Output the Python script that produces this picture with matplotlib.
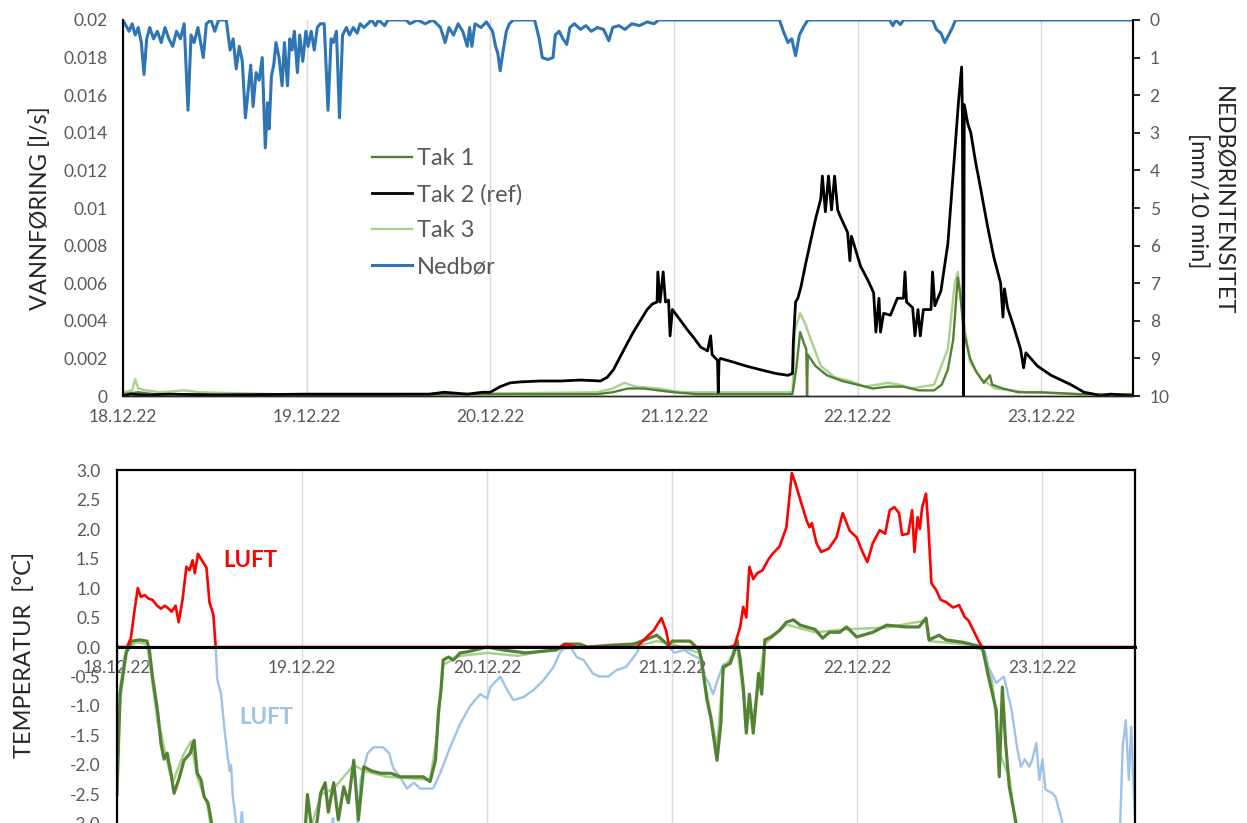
import numpy as np
import matplotlib
matplotlib.use("Agg")
import matplotlib.pyplot as plt

plt.rcParams['font.family'] = ['Lato', 'DejaVu Sans']

# x values are hours after 18.12.22 00:00
day_ticks = [0, 24, 48, 72, 96, 120]
day_labels = ['18.12.22', '19.12.22', '20.12.22', '21.12.22', '22.12.22', '23.12.22']

# --- top panel: precipitation [mm/10 min] ---
nedbor_t = [0, 0.8, 1.2, 1.6, 2.0, 2.4, 2.75, 3.1, 3.5, 4.0, 4.5, 5.0, 5.5, 6.0, 6.5,
            7.0, 7.5, 8.0, 8.5, 8.9, 9.3, 9.8, 10.5, 10.9, 11.5, 12.0, 12.5, 13.5,
            14.0, 14.4, 14.8, 15.2, 15.6, 16.0, 16.4, 16.7, 17.0, 17.4, 17.8, 18.2,
            18.6, 18.9, 19.1, 19.4, 19.7, 20.0, 20.4, 20.8, 21.1, 21.5, 21.8, 22.1,
            22.4, 22.8, 23.1, 23.5, 23.9, 24.2, 24.6, 25.0, 25.4, 25.8, 26.3, 26.8,
            27.2, 27.5, 27.9, 28.3, 28.7, 29.2, 29.6, 30.1, 30.6, 31.0, 31.5, 32.5,
            33.0, 33.4, 34.2, 34.6, 37.0, 37.5, 38.5, 39.5, 40.5, 41.5, 42.1, 42.6,
            43.2, 43.8, 44.4, 45.0, 45.3, 45.6, 46.0, 46.8, 47.5, 48.3, 48.7, 49.0,
            49.3, 49.7, 50.1, 50.5, 51.0, 53.8, 54.4, 54.8, 55.5, 56.2, 56.5, 57.0,
            57.5, 58.0, 58.4, 59.0, 59.8, 60.5, 61.2, 62.0, 62.8, 63.5, 64.0, 64.8,
            65.6, 66.5, 67.5, 68.5, 69.4, 70.0, 85.8, 86.3, 86.9, 87.4, 87.9, 88.4,
            88.9, 89.5, 100.2, 100.6, 101.0, 101.6, 102.0, 105.8, 106.3, 106.9,
            107.4, 107.9, 108.4, 108.8, 132.0]
nedbor_mm = [0, 0.3, 0.1, 0.4, 0.2, 0.6, 1.45, 0.5, 0.2, 0.5, 0.3, 0.6, 0.2, 0.5, 0.7,
             0.3, 0.5, 0.1, 2.4, 0.4, 0.6, 0.2, 1.0, 0.1, 0.0, 0.3, 0.0, 0.0,
             0.8, 0.5, 1.3, 0.7, 1.1, 2.6, 1.8, 1.2, 2.3, 1.4, 1.6, 1.0,
             3.4, 2.2, 2.9, 1.5, 1.2, 0.6, 1.0, 1.75, 0.6, 1.75, 0.5, 0.8,
             0.3, 1.4, 0.4, 1.1, 0.3, 0.7, 0.3, 0.8, 0.2, 0.1, 0.1, 2.4,
             0.5, 0.6, 0.3, 2.6, 0.4, 0.2, 0.4, 0.2, 0.35, 0.1, 0.2, 0.0,
             0.15, 0.0, 0.15, 0.0, 0.0, 0.1, 0.0, 0.1, 0.0, 0.2, 0.6, 0.2,
             0.4, 0.1, 0.3, 0.7, 0.2, 0.7, 0.1, 0.2, 0.05, 0.3, 0.7, 0.9,
             1.35, 0.8, 0.3, 0.1, 0.0, 0.0, 0.5, 1.0, 1.05, 1.0, 0.4, 0.3,
             0.5, 0.65, 0.2, 0.1, 0.25, 0.15, 0.3, 0.2, 0.25, 0.55, 0.2, 0.15,
             0.25, 0.1, 0.15, 0.05, 0.1, 0.0, 0.0, 0.3, 0.6, 0.5, 0.95, 0.4,
             0.2, 0.0, 0.0, 0.15, 0.0, 0.12, 0.0, 0.0, 0.25, 0.35,
             0.6, 0.4, 0.2, 0.0, 0.0]

# --- top panel: runoff [l/s] ---
tak2_t = [0, 1, 3, 6, 12, 24, 30, 36, 40, 42, 45, 47, 48, 49.3, 50.6, 51.9, 54.5, 57.2,
          59.8, 62.4, 63.3, 64.1, 65.0, 65.9, 66.7, 67.6, 68.5, 69.2, 69.8, 69.9, 70.2,
          70.6, 70.9, 71.3, 71.5, 71.8, 72.9, 73.8, 74.6, 75.5, 76.4, 76.8, 77.0, 77.7,
          77.8, 77.9, 78.1, 79.8, 81.4, 83.3, 85.3, 86.9, 87.5, 87.6, 87.9, 88.2, 88.6,
          89.2, 89.9, 90.5, 91.2, 91.4, 91.8, 92.2, 92.6, 93.0, 93.4, 93.8, 94.7, 95.0,
          95.2, 96.4, 97.3, 98.1, 98.4, 98.8, 99.0, 99.4, 100.3, 101.2, 102.0, 102.2,
          102.4, 103.2, 103.5, 103.9, 104.2, 104.6, 105.6, 105.8, 106.1, 106.9, 107.8,
          108.6, 109.2, 109.6, 109.7, 109.85, 109.95, 110.4, 110.8, 111.4, 112.1, 113.0,
          113.8, 114.7, 115.0, 115.2, 115.6, 116.4, 117.3, 117.7, 118.0, 119.5, 121.3,
          122.6, 123.9, 125.6, 126.9, 127.8, 129.1, 132.0]
tak2_q = [0.0, 0.0001, 0.00005, 0.0001, 0.00005, 0.0001, 0.0001, 0.0001, 0.0001, 0.0002,
          0.0001, 0.0002, 0.0002, 0.0005, 0.0007, 0.00075, 0.0008, 0.0008,
          0.00085, 0.0008, 0.001, 0.0014, 0.0021, 0.0028, 0.0034, 0.004, 0.0046, 0.0049,
          0.005, 0.0066, 0.005, 0.0066, 0.005, 0.0051, 0.0032, 0.0046, 0.004, 0.0035,
          0.0031, 0.0026, 0.0024, 0.0032, 0.0022, 0.0019, 0.0002, 0.0019, 0.002, 0.0018,
          0.0016, 0.0014, 0.0012, 0.0011, 0.0012, 0.0028, 0.005, 0.0052, 0.0058,
          0.007, 0.0083, 0.0094, 0.0105, 0.0117, 0.0098, 0.0117, 0.0099, 0.0117,
          0.0099, 0.0095, 0.0087, 0.0072, 0.0085, 0.0069, 0.0062, 0.0055, 0.0034,
          0.0052, 0.0034, 0.0044, 0.0043, 0.0052, 0.0052, 0.0066, 0.005, 0.0047,
          0.0032, 0.0046, 0.0032, 0.0046, 0.0046, 0.0066, 0.0048, 0.0056, 0.0081,
          0.0124, 0.0157, 0.0175, 0.015, 0.0, 0.0155, 0.0145, 0.014, 0.0125, 0.011,
          0.009, 0.0074, 0.006, 0.0042, 0.0057, 0.0047, 0.0037, 0.0025, 0.0015, 0.0023,
          0.0016, 0.0011, 0.00085, 0.0006, 0.0002, 0.0001, 0.0, 0.0001, 0.0]

tak1_t = [0, 2, 4, 10, 30, 48, 62, 64, 66, 68, 70, 72, 75, 80, 87.5, 88.0, 88.5, 89.0,
          89.3, 89.4, 89.5, 90.5, 92, 94, 96, 98, 100, 102, 104, 106, 107, 107.8,
          108.5, 109.1, 109.4, 109.9, 110.7, 111.5, 112.5, 113.3, 113.6, 115, 117,
          120, 125, 132]
tak1_q = [0.0001, 0.0002, 0.0001, 0.0001, 0.00005, 0.0001, 0.0001, 0.0002, 0.0004,
          0.0004, 0.0003, 0.0002, 0.0001, 0.0001, 0.0001, 0.0015, 0.0034, 0.0028,
          0.0025, 0.0, 0.0022, 0.0016, 0.0011, 0.0008, 0.0006, 0.0004, 0.0005, 0.0005,
          0.0003, 0.0003, 0.0006, 0.0014, 0.003, 0.0063, 0.0055, 0.0034, 0.002,
          0.0013, 0.0007, 0.0011, 0.0006, 0.0004, 0.0002, 0.0002, 0.0001, 0.0001]

tak3_t = [0, 1.2, 1.6, 2.0, 3, 5, 8, 10, 20, 40, 62, 64, 65.5, 67, 70, 73, 78, 87.5,
          87.8, 88.5, 89.2, 89.9, 91.2, 93, 95, 97, 100, 101.5, 103, 106, 107.8,
          108.7, 109.1, 109.9, 110.7, 112.2, 114, 118, 125, 132]
tak3_q = [0.0002, 0.0003, 0.0009, 0.0004, 0.0003, 0.0002, 0.0003, 0.0002, 0.0001,
          0.0001, 0.0002, 0.0004, 0.0007, 0.0005, 0.0004, 0.0002, 0.0002, 0.0002,
          0.0035, 0.0044, 0.0038, 0.003, 0.0016, 0.001, 0.0008, 0.0005, 0.0007,
          0.0006, 0.0004, 0.0006, 0.0025, 0.006, 0.0066, 0.0039, 0.0018, 0.0009,
          0.0004, 0.0002, 0.0001, 0.0001]

# --- bottom panel: temperatures [C] (values below -3 fall outside the view) ---
luft_t = [0, 0.4, 0.9, 1.3, 1.8, 2.2, 2.7, 3.1, 3.6, 4.1, 4.6, 5.2, 5.7, 6.2, 6.6, 7.1,
          7.6, 8.0, 8.5, 9.0, 9.4, 9.8, 10.1, 10.5, 11.0, 11.6, 12.0, 12.5, 12.8, 13.0,
          13.5, 13.9, 14.3, 14.6, 14.8, 15.0, 15.4, 15.8, 16.2, 16.5, 27.6, 28.0, 28.4,
          31.0, 31.6, 32.5, 33.3, 34.5, 35.3, 35.8, 36.7, 37.6, 38.5, 39.3, 41.0, 41.9,
          43.2, 44.5, 45.8, 47.1, 48.0, 48.4, 49.7, 50.6, 51.4, 52.7, 54.0, 55.3, 56.6,
          57.5, 58.2, 58.8, 59.6, 60.5, 61.7, 62.5, 63.7, 64.8, 66.0, 67.4, 67.8, 68.7,
          69.6, 70.6, 71.2, 71.6, 72.3, 73.5, 74.8, 75.6, 76.0, 76.7, 77.3, 77.9, 78.6,
          79.5, 80.1, 80.8, 81.2, 81.6, 82.0, 82.5, 83.0, 83.7, 84.4, 85.0, 85.9, 86.8,
          87.5, 87.9, 88.5, 89.4, 89.8, 90.1, 90.7, 91.3, 92.3, 93.3, 94.1, 95.0, 95.9,
          96.6, 97.3, 98.0, 98.9, 99.6, 100.2, 100.8, 101.4, 101.8, 102.6, 103.1, 103.4,
          103.8, 104.1, 104.4, 104.9, 105.2, 105.6, 106.2, 106.8, 107.5, 108.4, 109.2,
          109.9, 110.4, 110.9, 111.8, 112.2, 112.6, 113.0, 114.0, 115.0, 116.0, 116.7,
          117.2, 117.7, 118.3, 118.7, 119.2, 119.6, 120.0, 120.4, 121.2, 121.7, 122.5,
          122.9, 130.0, 130.4, 130.8, 131.2, 131.5, 131.8, 132.0]
luft_c = [-2.2, -1.0, -0.2, 0.0, 0.15, 0.55, 1.0, 0.85, 0.88, 0.82, 0.8, 0.7, 0.65, 0.7,
          0.66, 0.6, 0.7, 0.42, 0.8, 1.36, 1.3, 1.47, 1.25, 1.58, 1.47, 1.35, 0.75, 0.55,
          0.0, -0.55, -0.8, -1.35, -1.8, -2.1, -2.0, -2.5, -2.95, -3.3, -2.8, -3.3, -3.3,
          -2.9, -3.3, -3.3, -2.25, -1.8, -1.7, -1.7, -1.8, -2.05, -2.2, -2.4, -2.3, -2.4,
          -2.4, -2.14, -1.7, -1.3, -1.0, -0.8, -0.87, -0.68, -0.5, -0.73, -0.9, -0.85,
          -0.73, -0.56, -0.34, -0.08, 0.05, 0.03, -0.17, -0.22, -0.45, -0.5, -0.5,
          -0.39, -0.34, -0.1, 0.05, 0.17, 0.28, 0.49, 0.28, 0.0, -0.1, -0.05, -0.15,
          -0.2, -0.45, -0.6, -0.8, -0.55, -0.3, -0.25, 0.03, 0.34, 0.68, 0.5, 1.36,
          1.15, 1.25, 1.3, 1.47, 1.58, 1.7, 2.03, 2.95, 2.8, 2.54, 2.15, 2.03, 2.1,
          1.76, 1.61, 1.67, 1.86, 2.27, 1.97, 1.86, 1.63, 1.44, 1.76, 1.98, 1.92, 2.32,
          2.37, 2.27, 1.9, 1.92, 2.32, 1.61, 2.2, 2.0, 2.37, 2.6, 2.05, 1.08, 0.97,
          0.8, 0.76, 0.67, 0.71, 0.51, 0.45, 0.32, 0.08, 0.0, -0.1, -0.34, -0.61, -0.5,
          -1.07, -1.7, -2.03, -1.9, -2.03, -1.9, -1.63, -2.25, -1.9, -2.42, -2.47,
          -2.54, -2.93, -3.3, -3.3, -1.7, -1.24, -2.25, -1.35, -2.37, -2.9]

tak1_temp_t = [0, 0.4, 1.2, 1.9, 2.9, 3.9, 4.2, 4.6, 5.3, 5.7, 6.1, 6.5, 7.0, 7.4, 8.0,
               8.7, 9.5, 10.0, 10.4, 10.9, 11.3, 11.8, 12.2, 12.6, 24.3, 24.7, 25.1,
               25.5, 26.0, 26.4, 27.0, 27.4, 28.1, 28.7, 29.4, 30.0, 30.7, 31.3, 32.0,
               33.0, 34.2, 35.5, 36.7, 38.4, 39.7, 40.6, 41.3, 41.7, 42.0, 42.3, 43.0,
               43.6, 44.5, 45.5, 48.0, 50.0, 53.0, 57.0, 58.0, 60.0, 61.0, 64.0, 67.0,
               70.0, 71.5, 72.0, 74.3, 75.5, 75.8, 76.5, 77.0, 77.8, 78.3, 78.6, 79.5,
               80.0, 80.4, 80.8, 81.2, 81.6, 82.0, 82.5, 83.2, 83.6, 84.0, 84.8, 85.9,
               86.8, 87.7, 88.6, 90.5, 91.5, 92.4, 93.7, 94.6, 95.9, 98.0, 99.8, 102.3,
               104.0, 104.9, 105.3, 106.6, 107.5, 109.7, 112.2, 113.0, 114.0, 114.4,
               114.8, 115.2, 115.7, 116.5, 116.9, 132.0]
tak1_temp_c = [-2.5, -0.8, -0.1, 0.1, 0.12, 0.1, -0.05, -0.5, -1.12, -1.63, -1.9, -1.8,
               -2.14, -2.48, -2.25, -1.92, -1.8, -1.58, -2.14, -2.25, -2.54, -2.64,
               -2.93, -3.3, -3.3, -2.5, -2.93, -3.3, -2.9, -2.48, -2.3, -2.8, -2.3,
               -2.93, -2.37, -2.64, -1.92, -2.93, -2.03, -2.1, -2.14, -2.14, -2.2, -2.2,
               -2.2, -2.28, -1.92, -1.07, -0.75, -0.22, -0.17, -0.22, -0.1, -0.08, 0.0,
               -0.05, -0.1, -0.05, 0.05, 0.05, 0.0, 0.03, 0.05, 0.2, 0.03, 0.1, 0.1,
               -0.05, -0.22, -0.9, -1.2, -1.92, -1.3, -0.34, -0.28, -0.1, 0.12, -0.2,
               -0.68, -1.46, -0.8, -1.46, -0.45, -0.8, 0.12, 0.17, 0.28, 0.42, 0.46,
               0.37, 0.3, 0.15, 0.25, 0.25, 0.34, 0.17, 0.25, 0.37, 0.34, 0.34, 0.49,
               0.12, 0.2, 0.12, 0.08, 0.0, -0.5, -1.07, -2.2, -0.68, -1.6, -2.37, -2.93,
               -3.3, -3.3]

tak3_temp_t = [0, 0.4, 1.2, 2.5, 3.9, 4.6, 5.3, 5.8, 6.4, 7.2, 8.7, 9.6, 10.4, 11.8,
               12.4, 24.5, 26.5, 28.1, 30.7, 32.0, 35.0, 40.6, 41.5, 42.3, 44.5, 48.0,
               52.0, 56.0, 60.0, 67.0, 70.0, 72.0, 75.5, 76.5, 77.8, 78.6, 80.4, 81.6,
               82.5, 84.0, 86.8, 90.5, 94.6, 99.8, 104.9, 105.3, 109.7, 112.2, 113.5,
               114.4, 115.7, 116.8, 132.0]
tak3_temp_c = [-2.4, -0.7, -0.05, 0.08, 0.05, -0.6, -1.3, -1.5, -1.9, -2.3, -1.8, -1.6,
               -2.2, -2.7, -3.3, -3.3, -2.5, -2.4, -2.0, -2.1, -2.2, -2.25, -1.5, -0.3,
               -0.15, -0.1, -0.15, -0.05, 0.0, 0.0, 0.1, 0.05, -0.1, -0.8, -1.7, -0.4,
               0.0, -1.2, -1.2, 0.05, 0.38, 0.25, 0.3, 0.33, 0.45, 0.1, 0.05, -0.05,
               -0.6, -1.8, -2.2, -3.3, -3.3]

GREY = '#595959'
GRID = '#D9D9D9'
C_TAK1 = '#548235'
C_TAK3 = '#A9D18E'
C_RAIN = '#2E75B6'
C_WARM = '#FF0000'
C_COLD = '#9DC3E6'
TICK_FS = 12.5
LABEL_FS = 17

fig = plt.figure(figsize=(12.47, 8.23), dpi=100)

# ---------------- top panel ----------------
ax1 = fig.add_axes([0.0986, 0.5188, 0.8100, 0.4569])
ax2 = ax1.twinx()

l3, = ax1.plot(tak3_t, tak3_q, color=C_TAK3, lw=1.7, label='Tak 3')
l1, = ax1.plot(tak1_t, tak1_q, color=C_TAK1, lw=1.7, label='Tak 1')
l2, = ax1.plot(tak2_t, tak2_q, color='black', lw=2.0, label='Tak 2 (ref)')
l4, = ax2.plot(nedbor_t, nedbor_mm, color=C_RAIN, lw=2.2, label='Nedbør')

ax1.set_xlim(0, 132)
ax1.set_ylim(0, 0.02)
ax1.set_yticks(np.arange(0, 0.0201, 0.002))
ax1.set_yticklabels(['0'] + ['%g' % v for v in np.arange(0.002, 0.0201, 0.002)])
ax1.set_xticks(day_ticks)
ax1.set_xticklabels(day_labels)
ax1.tick_params(axis='both', length=0, labelsize=TICK_FS, labelcolor=GREY)
ax1.tick_params(axis='x', pad=9)
ax1.tick_params(axis='y', pad=11)
ax1.grid(axis='x', color=GRID, lw=1)
ax1.set_axisbelow(True)

ax2.set_ylim(10, 0)
ax2.set_yticks(range(0, 11))
ax2.tick_params(axis='y', direction='out', length=5, width=1.2, color='black',
                labelsize=TICK_FS, labelcolor=GREY, pad=7)

for ax in (ax1, ax2):
    ax.spines['top'].set_visible(False)
    ax.spines['left'].set_color('black')
    ax.spines['left'].set_linewidth(1.5)
    ax.spines['right'].set_color('black')
    ax.spines['right'].set_linewidth(1.5)
    ax.spines['bottom'].set_color('#262626')
    ax.spines['bottom'].set_linewidth(1.0)

ax1.set_ylabel('VANNFØRING [l/s]', fontsize=LABEL_FS, color='#262626')
ax1.yaxis.set_label_coords(-0.082, 0.5)
ax1.yaxis.label.set_verticalalignment('center')

ax2.text(1.076, 0.52, 'NEDBØRINTENSITET\n[mm/10 min]', transform=ax2.transAxes,
         rotation=270, ha='center', va='center', multialignment='center',
         fontsize=LABEL_FS, color='#262626', linespacing=1.15)

ax1.legend(handles=[l1, l2, l3, l4], loc='upper left', bbox_to_anchor=(0.237, 0.685),
           frameon=False, fontsize=17, labelcolor=GREY, handlelength=1.7,
           handletextpad=0.2, labelspacing=0.63, borderaxespad=0)

# ---------------- bottom panel ----------------
ax3 = fig.add_axes([0.0938, -0.0012, 0.8164, 0.4301])

luft = np.array(luft_c)
ax3.plot(luft_t, np.minimum(luft, 0), color=C_COLD, lw=1.7)
ax3.plot(tak3_temp_t, tak3_temp_c, color=C_TAK3, lw=1.8)
ax3.plot(tak1_temp_t, tak1_temp_c, color=C_TAK1, lw=2.3)
ax3.plot(luft_t, np.maximum(luft, 0), color=C_WARM, lw=1.9)

ax3.set_xlim(0, 132)
ax3.set_ylim(-3, 3)
ax3.set_yticks(np.arange(-3, 3.01, 0.5))
ax3.set_yticklabels(['%.1f' % v for v in np.arange(-3, 3.01, 0.5)])
ax3.set_xticks(day_ticks)
ax3.set_xticklabels(day_labels)
ax3.tick_params(axis='both', length=0, labelsize=TICK_FS, labelcolor=GREY)
ax3.tick_params(axis='x', pad=9)
ax3.tick_params(axis='y', pad=12)
ax3.grid(axis='x', color=GRID, lw=1)
ax3.set_axisbelow(True)

ax3.spines['bottom'].set_position(('data', 0))
ax3.spines['bottom'].set_color('black')
ax3.spines['bottom'].set_linewidth(2.2)
ax3.spines['bottom'].set_zorder(5)
for side in ('top', 'left', 'right'):
    ax3.spines[side].set_color('black')
    ax3.spines[side].set_linewidth(1.6)

ax3.set_ylabel('TEMPERATUR  [°C]', fontsize=LABEL_FS, color='#262626')
ax3.yaxis.set_label_coords(-0.091, 0.477)
ax3.yaxis.label.set_verticalalignment('center')

ax3.text(17.3, 1.46, 'LUFT', color=C_WARM, fontsize=16, fontweight='bold',
         ha='center', va='center')
ax3.text(19.4, -1.19, 'LUFT', color=C_COLD, fontsize=16, fontweight='bold',
         ha='center', va='center')

fig.savefig('out.png', dpi=100)
